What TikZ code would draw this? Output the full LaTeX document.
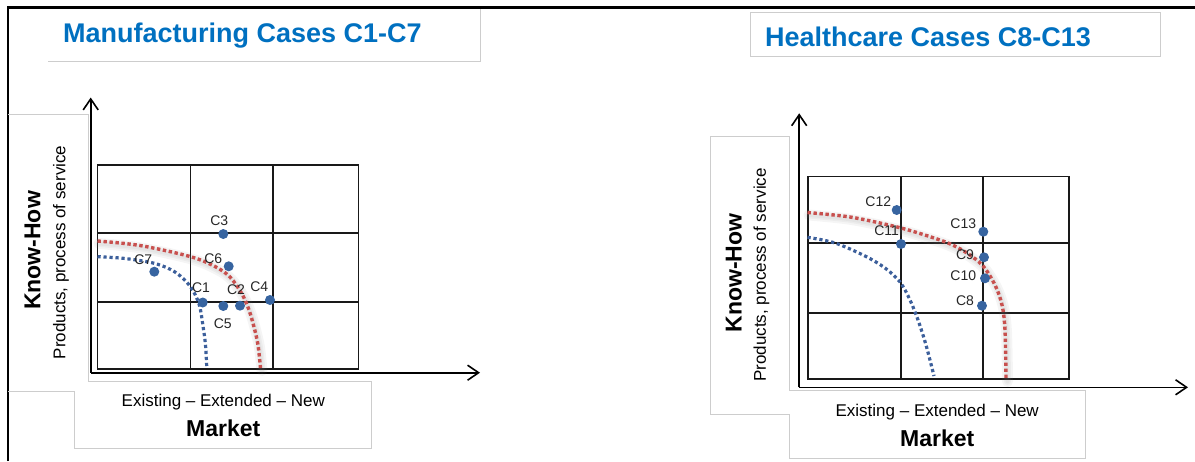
\documentclass[tikz,border=0pt]{standalone}
\usepackage{fontspec}
\setmainfont{Liberation Sans}
\usetikzlibrary{arrows.meta}
\definecolor{titleblue}{RGB}{0,112,192}
\definecolor{dotblue}{RGB}{55,100,160}
\definecolor{curveblue}{RGB}{60,95,155}
\definecolor{curvered}{RGB}{200,80,78}
\definecolor{boxgray}{RGB}{205,205,205}
\definecolor{gridline}{RGB}{25,25,25}
\tikzset{
  frameline/.style={line width=2.8pt, black},
  boxline/.style={line width=0.9pt, boxgray},
  axis/.style={line width=1.6pt, black, -{Straight Barb[length=11pt,width=15pt,line width=1.6pt]}},
  gridlines/.style={line width=1.8pt, gridline},
  dot/.style={circle, fill=dotblue, draw=none, minimum size=10pt, inner sep=0pt},
  lbl/.style={inner sep=0pt, text=black!85, font=\fontsize{14}{16}\selectfont},
  titletext/.style={inner sep=0pt, text=titleblue, font=\fontsize{27}{30}\selectfont\bfseries},
  axtitle/.style={inner sep=0pt, text=black, font=\fontsize{23}{26}\selectfont\bfseries},
  axsub/.style={inner sep=0pt, text=black, font=\fontsize{17}{20}\selectfont},
  redcurve/.style={curvered, line width=3.4pt, dash pattern=on 3.4pt off 2.6pt},
  bluecurve/.style={curveblue, line width=3.2pt, dash pattern=on 3.2pt off 2.8pt},
  halo/.style={gray, line cap=round, opacity=0.08, shift={(1.5,2.5)}},
}
\begin{document}
\begin{tikzpicture}[x=1pt,y=-1pt]
\useasboundingbox (0,0) rectangle (1195,461);

% outer frame (top and left edges)
\draw[frameline] (8,461) -- (8,7.5) -- (1195,7.5);

% ---------------- manufacturing panel ----------------
\draw[boxline] (48,61) -- (480,61) -- (480,8.5);
\node[titletext, anchor=base west] (titleL) at (63,42.7) {Manufacturing Cases C1-C7};

% label boxes of the axes
\draw[boxline] (8,114) -- (88.5,114) -- (88.5,381.5) -- (371,381.5) -- (371,448.5)
  -- (74.5,448.5) -- (74.5,391.5) -- (8,391.5);

% 3x3 matrix
\draw[gridlines] (97.5,165) rectangle (358.5,369.3);
\draw[gridlines] (190.5,165) -- (190.5,369.3) (272.7,165) -- (272.7,369.3)
  (97.5,232.9) -- (358.5,232.9) (97.5,302.2) -- (358.5,302.2);

% axes
\coordinate (oL) at (90.7,372.7);
\coordinate (yL) at (90.7,97.5);
\coordinate (xL) at (480,372.7);
\draw[axis] (oL) -- (yL);
\draw[axis] (oL) -- (xL);

% frontier curves
\def\redL{plot[smooth, tension=0.55] coordinates {(97.5,241) (140,245.5) (190,256.5) (215,266.5) (230,277) (242,294) (249,310) (254,327) (258,345) (260.5,368)}}
\def\blueL{plot[smooth, tension=0.55] coordinates {(97.5,256.7) (125,258.5) (155,263.5) (175,272) (190,286) (199,304) (203,326) (205.5,345) (206.7,366)}}
\draw[halo, line width=11pt] \redL;
\draw[halo, line width=7pt] \redL;
\draw[halo, line width=4pt] \redL;
\draw[bluecurve] \blueL;
\draw[redcurve] \redL;

% cases
\node[dot] (c3) at (223.3,234) {};
\node[lbl] (c3l) at (219.3,220.7) {C3};
\node[dot] (c6) at (228.7,266.3) {};
\node[lbl] (c6l) at (213.3,258.3) {C6};
\node[dot] (c7) at (154.3,271.7) {};
\node[lbl] (c7l) at (143.3,259.3) {C7};
\node[dot] (c1) at (202.7,302.5) {};
\node[lbl] (c1l) at (201,287.3) {C1};
\node[dot] (c5) at (223.3,306) {};
\node[lbl] (c5l) at (222.7,323.3) {C5};
\node[dot] (c2) at (240,305.7) {};
\node[lbl] (c2l) at (236,289.3) {C2};
\node[dot] (c4) at (270,300) {};
\node[lbl] (c4l) at (259.3,286.7) {C4};

% axis titles
\node[axtitle, rotate=90] (khL) at (32.5,250.5) {Know-How};
\node[axsub, rotate=90] (prL) at (61,252.5) {Products, process of service};
\node[axsub, anchor=base] (exL) at (223.3,406.7) {Existing -- Extended -- New};
\node[axtitle, anchor=base] (mkL) at (223.3,436.7) {Market};

% ---------------- healthcare panel ----------------
\draw[boxline] (750,12.5) rectangle (1160.5,56.5);
\node[titletext, anchor=base west] (titleR) at (765,46.7) {Healthcare Cases C8-C13};

\draw[boxline] (789,136.7) -- (710.8,136.7) -- (710.8,414.3) -- (789,414.3) -- (789,458.3)
  -- (1085.8,458.3) -- (1085.8,390.7) -- (789,390.7) -- cycle;

\draw[gridlines] (808,176.5) rectangle (1068.7,379.3);
\draw[gridlines] (900.7,176.5) -- (900.7,379.3) (982.6,176.5) -- (982.6,379.3)
  (808,243.3) -- (1068.7,243.3) (808,313.3) -- (1068.7,313.3);

\coordinate (oR) at (799.2,387.3);
\coordinate (yR) at (799.2,113.3);
\coordinate (xR) at (1188,387.3);
\draw[axis] (oR) -- (yR);
\draw[axis] (oR) -- (xR);

\def\redR{plot[smooth, tension=0.55] coordinates {(807.5,212.5) (850,217) (893,226) (920,233.5) (948,243) (967,253) (983,266) (995,285) (1002,305) (1005,330) (1006,379)}}
\def\blueR{plot[smooth, tension=0.55] coordinates {(807.5,237.3) (835,243) (865,256) (885,268) (900,282) (910,300) (918,320) (926,345) (934,376)}}
\draw[halo, line width=11pt] \redR;
\draw[halo, line width=7pt] \redR;
\draw[halo, line width=4pt] \redR;
\draw[bluecurve] \blueR;
\draw[redcurve] \redR;

\node[lbl] (c12l) at (878.3,201.7) {C12};
\node[lbl] (c11l) at (886.7,230.7) {C11};
\node[lbl] (c13l) at (963.3,223.3) {C13};
\node[lbl] (c9l) at (965,254.3) {C9};
\node[lbl] (c10l) at (963.3,276) {C10};
\node[lbl] (c8l) at (965,300.7) {C8};
\node[dot] (c12) at (896.7,210) {};
\node[dot] (c11) at (901,244) {};
\node[dot] (c13) at (983.3,231.7) {};
\node[dot] (c9) at (984,257.3) {};
\node[dot] (c10) at (985,278.3) {};
\node[dot] (c8) at (982,305.7) {};

\node[axtitle, rotate=90] (khR) at (733.7,273) {Know-How};
\node[axsub, rotate=90] (prR) at (761.5,275) {Products, process of service};
\node[axsub, anchor=base] (exR) at (937.2,416.7) {Existing -- Extended -- New};
\node[axtitle, anchor=base] (mkR) at (937.2,446) {Market};
\end{tikzpicture}
\end{document}
